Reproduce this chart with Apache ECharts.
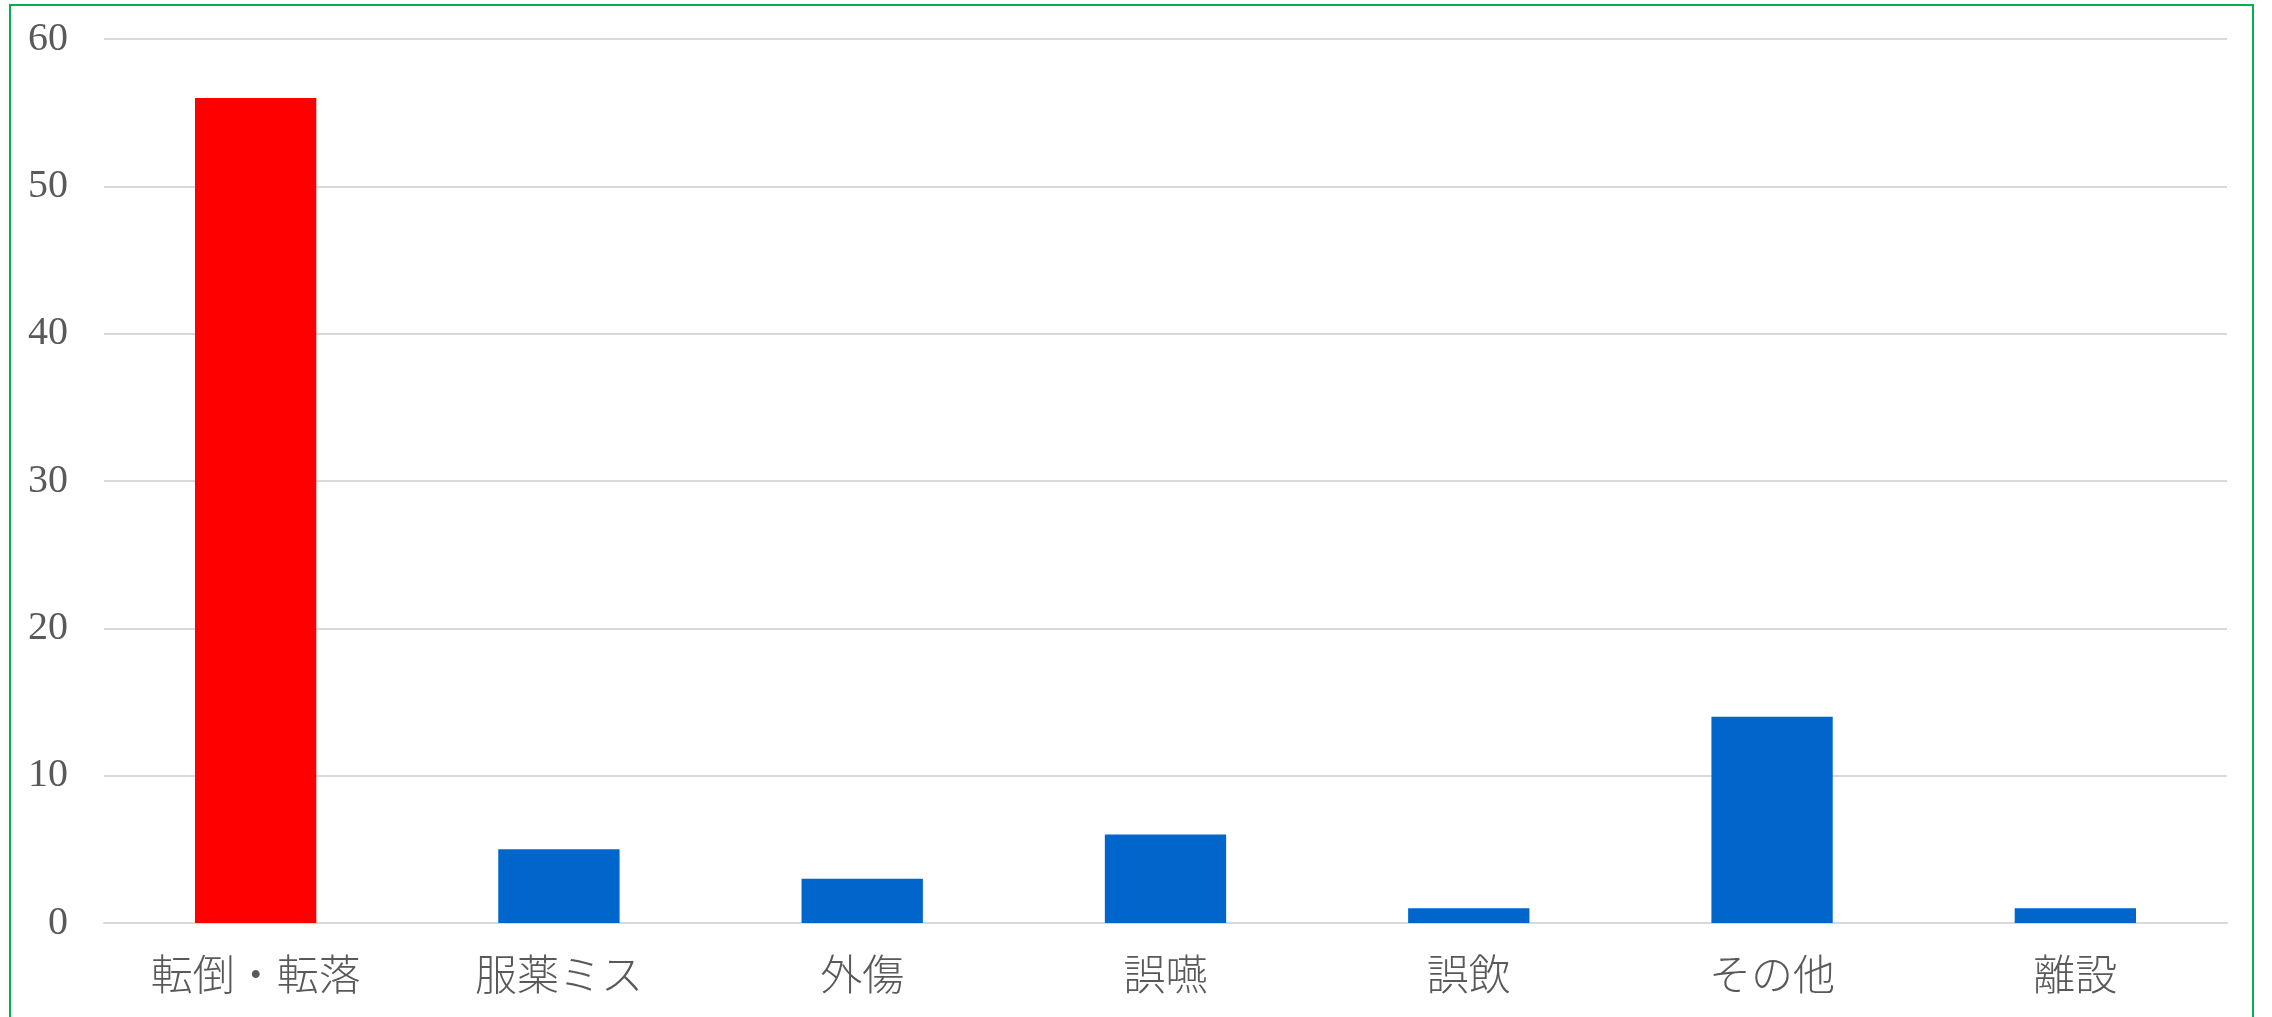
<!DOCTYPE html>
<html>
<head>
<meta charset="utf-8">
<script src="https://cdn.jsdelivr.net/npm/echarts@6/dist/echarts.min.js"></script>
<style>
html,body{margin:0;padding:0;background:#fff;overflow:hidden;}
#frame{position:absolute;left:9px;top:4px;width:2245px;height:1100px;border:2px solid #00B050;box-sizing:border-box;}
#chart{position:absolute;left:0;top:0;width:2272px;height:1017px;}
</style>
</head>
<body>
<div id="frame"></div>
<div id="chart"></div>
<script>
const categories = ['転倒・転落', '服薬ミス', '外傷', '誤嚥', '誤飲', 'その他', '離設'];
const values = [56, 5, 3, 6, 1, 14, 1];
const barColors = ['#FF0000', '#0066CC', '#0066CC', '#0066CC', '#0066CC', '#0066CC', '#0066CC'];
const yTicks = [0, 10, 20, 30, 40, 50, 60];

const chart = echarts.init(document.getElementById('chart'));
chart.setOption({
  animation: false,
  backgroundColor: 'transparent',
  grid: { left: 104, right: 45, top: 39, bottom: 94, containLabel: false },
  xAxis: {
    type: 'category',
    data: categories,
    axisLine: { show: true, lineStyle: { color: '#D9D9D9', width: 2 } },
    axisTick: { show: false },
    axisLabel: { color: '#595959', fontSize: 42, fontFamily: 'Noto Sans CJK JP', margin: 30, fontWeight: 300 }
  },
  yAxis: {
    type: 'value',
    min: yTicks[0],
    max: yTicks[yTicks.length - 1],
    interval: 10,
    axisLine: { show: false },
    axisTick: { show: false },
    splitLine: { lineStyle: { color: '#D9D9D9', width: 2 } },
    axisLabel: { color: '#595959', fontSize: 40, fontFamily: 'Liberation Serif', margin: 36, padding: [5, 0, 0, 0] }
  },
  series: [{
    type: 'bar',
    data: values.map((v, i) => ({ value: v, itemStyle: { color: barColors[i] } })),
    barCategoryGap: '60%'
  }]
});
</script>
</body>
</html>
